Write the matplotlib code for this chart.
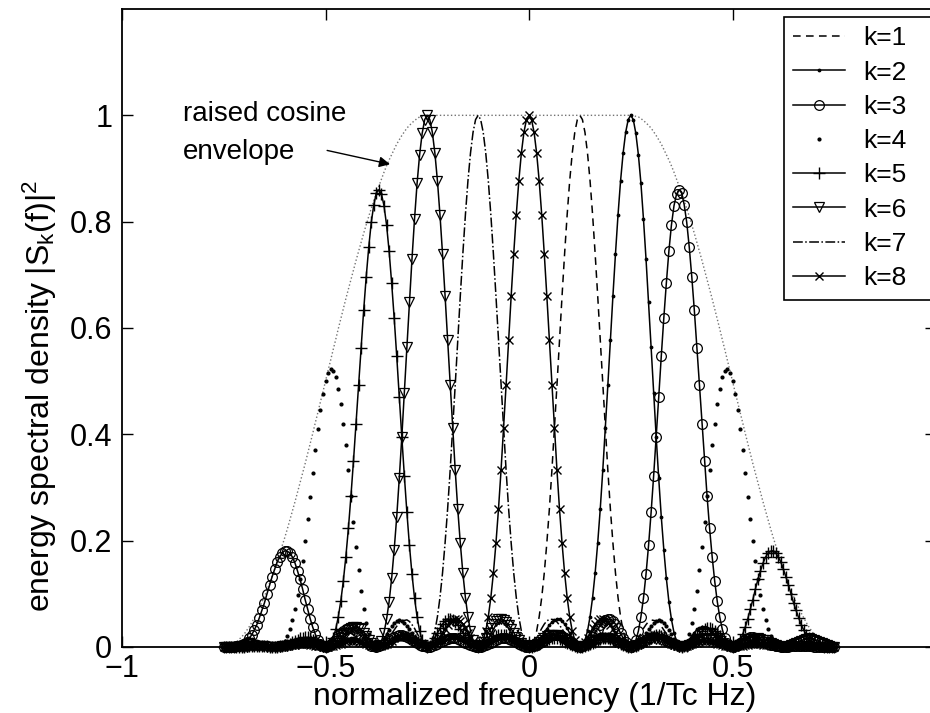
import numpy as np
import matplotlib
matplotlib.use("Agg")
import matplotlib.pyplot as plt

plt.rcParams['font.family'] = ['Liberation Sans', 'DejaVu Sans']
plt.rcParams['mathtext.fontset'] = 'custom'
plt.rcParams['mathtext.rm'] = 'Liberation Sans'
plt.rcParams['mathtext.it'] = 'Liberation Sans:italic'

# sampling grid of normalized frequency (1/Tc Hz)
freq = np.linspace(-0.75, 0.75, 241)

# energy spectral density |S_k(f)|^2
k1 = [0, 0, 0, 0, 0, 0, 0.001, 0.001, 0.001, 0.002,
      0.002, 0.002, 0.002, 0.002, 0.002, 0.002, 0.001, 0.001, 0, 0,
      0, 0, 0.001, 0.001, 0.002, 0.003, 0.004, 0.005, 0.006, 0.007,
      0.007, 0.007, 0.007, 0.006, 0.005, 0.004, 0.003, 0.002, 0.001, 0,
      0, 0, 0.001, 0.002, 0.003, 0.005, 0.007, 0.008, 0.010, 0.011,
      0.011, 0.011, 0.011, 0.010, 0.008, 0.006, 0.004, 0.002, 0.002, 0,
      0, 0, 0.002, 0.003, 0.005, 0.007, 0.009, 0.012, 0.014, 0.015,
      0.015, 0.016, 0.015, 0.013, 0.011, 0.009, 0.006, 0.004, 0.002, 0,
      0, 0.001, 0.002, 0.004, 0.007, 0.010, 0.013, 0.017, 0.019, 0.022,
      0.023, 0.023, 0.022, 0.020, 0.017, 0.013, 0.009, 0.006, 0.003, 0.001,
      0, 0.001, 0.003, 0.007, 0.013, 0.019, 0.027, 0.034, 0.041, 0.047,
      0.051, 0.052, 0.052, 0.049, 0.043, 0.035, 0.026, 0.017, 0.009, 0.002,
      0,
      0.003, 0.013, 0.030, 0.057, 0.093, 0.139, 0.195, 0.259, 0.332, 0.411,
      0.493, 0.578, 0.661, 0.740, 0.813, 0.877, 0.929, 0.968, 0.992, 1.0,
      0.992, 0.968, 0.929, 0.877, 0.813, 0.740, 0.661, 0.578, 0.493, 0.411,
      0.332, 0.259, 0.195, 0.139, 0.093, 0.057, 0.030, 0.013, 0.003, 0,
      0.002, 0.009, 0.017, 0.026, 0.035, 0.042, 0.048, 0.051, 0.050, 0.049,
      0.045, 0.039, 0.032, 0.025, 0.017, 0.012, 0.006, 0.003, 0.001, 0,
      0.001, 0.002, 0.005, 0.007, 0.010, 0.013, 0.015, 0.016, 0.016, 0.016,
      0.015, 0.012, 0.011, 0.008, 0.006, 0.004, 0.002, 0.001, 0.001, 0,
      0, 0.001, 0.002, 0.003, 0.004, 0.004, 0.005, 0.005, 0.005, 0.005,
      0.005, 0.004, 0.003, 0.002, 0.002, 0.001, 0.001, 0, 0, 0,
      0, 0, 0, 0, 0.001, 0.001, 0.001, 0.001, 0.001, 0.001,
      0, 0, 0, 0, 0, 0, 0, 0, 0, 0]

k2 = [0, 0, 0.002, 0.003, 0.005, 0.008, 0.010, 0.012, 0.014, 0.015,
      0.016, 0.015, 0.014, 0.012, 0.010, 0.008, 0.005, 0.003, 0.002, 0,
      0, 0, 0.002, 0.003, 0.005, 0.008, 0.010, 0.013, 0.014, 0.015,
      0.016, 0.015, 0.014, 0.012, 0.010, 0.008, 0.005, 0.003, 0.001, 0,
      0, 0.001, 0.002, 0.003, 0.005, 0.008, 0.010, 0.013, 0.014, 0.015,
      0.016, 0.016, 0.014, 0.013, 0.010, 0.008, 0.006, 0.003, 0.002, 0.001,
      0, 0, 0.002, 0.004, 0.005, 0.008, 0.010, 0.012, 0.014, 0.015,
      0.015, 0.016, 0.015, 0.013, 0.010, 0.008, 0.005, 0.003, 0.002, 0,
      0, 0, 0.002, 0.003, 0.005, 0.008, 0.010, 0.013, 0.015, 0.016,
      0.016, 0.016, 0.015, 0.013, 0.011, 0.009, 0.006, 0.004, 0.002, 0,
      0, 0.001, 0.002, 0.004, 0.007, 0.010, 0.013, 0.017, 0.019, 0.022,
      0.023, 0.023, 0.022, 0.020, 0.017, 0.013, 0.009, 0.006, 0.003, 0.001,
      0,
      0.001, 0.003, 0.007, 0.013, 0.019, 0.027, 0.034, 0.041, 0.047, 0.051,
      0.052, 0.052, 0.049, 0.043, 0.035, 0.026, 0.017, 0.009, 0.002, 0,
      0.003, 0.013, 0.030, 0.057, 0.093, 0.139, 0.195, 0.259, 0.332, 0.411,
      0.493, 0.578, 0.661, 0.740, 0.813, 0.877, 0.929, 0.968, 0.992, 1.0,
      0.992, 0.966, 0.926, 0.872, 0.805, 0.730, 0.648, 0.564, 0.478, 0.395,
      0.317, 0.245, 0.183, 0.129, 0.085, 0.052, 0.027, 0.011, 0.003, 0,
      0.002, 0.007, 0.014, 0.021, 0.027, 0.033, 0.036, 0.038, 0.037, 0.035,
      0.032, 0.027, 0.022, 0.017, 0.011, 0.008, 0.004, 0.002, 0.001, 0,
      0, 0.001, 0.003, 0.004, 0.005, 0.007, 0.007, 0.008, 0.008, 0.007,
      0.006, 0.005, 0.004, 0.003, 0.002, 0.001, 0.001, 0, 0, 0,
      0, 0, 0, 0.001, 0.001, 0.001, 0.001, 0.001, 0.001, 0.001,
      0, 0, 0, 0, 0, 0, 0, 0, 0, 0]

k3 = [0, 0, 0, 0, 0, 0.001, 0.002, 0.004, 0.006, 0.010,
      0.016, 0.023, 0.032, 0.042, 0.055, 0.069, 0.083, 0.100, 0.116, 0.132,
      0.146, 0.160, 0.169, 0.177, 0.181, 0.180, 0.177, 0.169, 0.158, 0.143,
      0.127, 0.109, 0.089, 0.071, 0.053, 0.037, 0.024, 0.013, 0.006, 0.001,
      0, 0.001, 0.005, 0.010, 0.015, 0.021, 0.027, 0.031, 0.034, 0.035,
      0.035, 0.033, 0.030, 0.025, 0.021, 0.015, 0.010, 0.006, 0.002, 0.001,
      0, 0.001, 0.003, 0.005, 0.008, 0.012, 0.016, 0.019, 0.021, 0.022,
      0.022, 0.021, 0.019, 0.017, 0.013, 0.010, 0.007, 0.004, 0.002, 0.001,
      0, 0, 0.002, 0.004, 0.006, 0.009, 0.011, 0.013, 0.015, 0.016,
      0.016, 0.016, 0.015, 0.013, 0.010, 0.008, 0.005, 0.003, 0.002, 0,
      0, 0, 0.002, 0.003, 0.005, 0.008, 0.010, 0.013, 0.015, 0.016,
      0.016, 0.016, 0.015, 0.013, 0.011, 0.009, 0.006, 0.004, 0.002, 0,
      0,
      0.001, 0.002, 0.004, 0.007, 0.010, 0.013, 0.017, 0.019, 0.022, 0.023,
      0.023, 0.022, 0.020, 0.017, 0.013, 0.009, 0.006, 0.003, 0.001, 0,
      0.001, 0.003, 0.007, 0.013, 0.019, 0.027, 0.034, 0.041, 0.047, 0.051,
      0.052, 0.052, 0.049, 0.043, 0.035, 0.026, 0.017, 0.009, 0.002, 0,
      0.003, 0.013, 0.030, 0.057, 0.092, 0.137, 0.191, 0.253, 0.322, 0.395,
      0.470, 0.547, 0.619, 0.685, 0.745, 0.794, 0.830, 0.852, 0.860, 0.854,
      0.832, 0.799, 0.752, 0.696, 0.633, 0.563, 0.492, 0.420, 0.350, 0.284,
      0.223, 0.170, 0.124, 0.086, 0.056, 0.033, 0.017, 0.007, 0.002, 0,
      0.001, 0.004, 0.007, 0.011, 0.014, 0.016, 0.018, 0.018, 0.017, 0.016,
      0.014, 0.011, 0.009, 0.006, 0.004, 0.003, 0.001, 0.001, 0, 0,
      0, 0, 0.001, 0.001, 0.001, 0.001, 0.001, 0.001, 0.001, 0.001,
      0.001, 0, 0, 0, 0, 0, 0, 0, 0, 0]

k4 = [0, 0, 0, 0, 0, 0, 0, 0.001, 0.001, 0.001,
      0.002, 0.002, 0.003, 0.003, 0.003, 0.003, 0.002, 0.002, 0.001, 0,
      0, 0, 0.002, 0.006, 0.012, 0.021, 0.033, 0.050, 0.071, 0.097,
      0.127, 0.161, 0.199, 0.241, 0.283, 0.327, 0.370, 0.410, 0.446, 0.476,
      0.500, 0.516, 0.522, 0.519, 0.507, 0.486, 0.457, 0.420, 0.379, 0.332,
      0.284, 0.235, 0.188, 0.145, 0.106, 0.072, 0.045, 0.024, 0.011, 0.003,
      0, 0.002, 0.008, 0.015, 0.024, 0.032, 0.040, 0.046, 0.049, 0.050,
      0.049, 0.046, 0.040, 0.033, 0.027, 0.019, 0.013, 0.007, 0.003, 0.001,
      0, 0.001, 0.003, 0.006, 0.009, 0.013, 0.017, 0.020, 0.022, 0.023,
      0.023, 0.022, 0.019, 0.017, 0.013, 0.010, 0.007, 0.004, 0.002, 0.001,
      0, 0, 0.002, 0.004, 0.006, 0.009, 0.011, 0.013, 0.015, 0.016,
      0.016, 0.016, 0.015, 0.013, 0.010, 0.008, 0.005, 0.003, 0.002, 0,
      0,
      0, 0.002, 0.003, 0.005, 0.008, 0.010, 0.013, 0.015, 0.016, 0.016,
      0.016, 0.015, 0.013, 0.011, 0.009, 0.006, 0.004, 0.002, 0, 0,
      0.001, 0.002, 0.004, 0.007, 0.010, 0.013, 0.017, 0.019, 0.022, 0.023,
      0.023, 0.022, 0.020, 0.017, 0.013, 0.009, 0.006, 0.003, 0.001, 0,
      0.001, 0.003, 0.007, 0.013, 0.019, 0.027, 0.033, 0.040, 0.046, 0.049,
      0.050, 0.049, 0.046, 0.040, 0.032, 0.024, 0.015, 0.008, 0.002, 0,
      0.003, 0.011, 0.024, 0.045, 0.072, 0.106, 0.145, 0.188, 0.235, 0.284,
      0.332, 0.379, 0.420, 0.457, 0.486, 0.507, 0.519, 0.522, 0.516, 0.500,
      0.476, 0.446, 0.410, 0.370, 0.327, 0.283, 0.241, 0.199, 0.161, 0.127,
      0.097, 0.071, 0.050, 0.033, 0.021, 0.012, 0.006, 0.002, 0, 0,
      0, 0.001, 0.002, 0.002, 0.003, 0.003, 0.003, 0.003, 0.002, 0.002,
      0.001, 0.001, 0.001, 0, 0, 0, 0, 0, 0, 0]

k5 = [0, 0, 0, 0, 0, 0, 0, 0, 0, 0.001,
      0.001, 0.001, 0.001, 0.001, 0.001, 0.001, 0.001, 0.001, 0, 0,
      0, 0, 0.001, 0.001, 0.003, 0.004, 0.006, 0.009, 0.011, 0.014,
      0.016, 0.017, 0.018, 0.018, 0.016, 0.014, 0.011, 0.007, 0.004, 0.001,
      0, 0.002, 0.007, 0.017, 0.033, 0.056, 0.086, 0.124, 0.170, 0.223,
      0.284, 0.350, 0.420, 0.492, 0.563, 0.633, 0.696, 0.752, 0.799, 0.832,
      0.854, 0.860, 0.852, 0.830, 0.794, 0.745, 0.685, 0.619, 0.547, 0.470,
      0.395, 0.322, 0.253, 0.191, 0.137, 0.092, 0.057, 0.030, 0.013, 0.003,
      0, 0.002, 0.009, 0.017, 0.026, 0.035, 0.043, 0.049, 0.052, 0.052,
      0.051, 0.047, 0.041, 0.034, 0.027, 0.019, 0.013, 0.007, 0.003, 0.001,
      0, 0.001, 0.003, 0.006, 0.009, 0.013, 0.017, 0.020, 0.022, 0.023,
      0.023, 0.022, 0.019, 0.017, 0.013, 0.010, 0.007, 0.004, 0.002, 0.001,
      0,
      0, 0.002, 0.004, 0.006, 0.009, 0.011, 0.013, 0.015, 0.016, 0.016,
      0.016, 0.015, 0.013, 0.010, 0.008, 0.005, 0.003, 0.002, 0, 0,
      0, 0.002, 0.003, 0.005, 0.008, 0.010, 0.013, 0.015, 0.016, 0.016,
      0.016, 0.015, 0.013, 0.011, 0.009, 0.006, 0.004, 0.002, 0, 0,
      0.001, 0.002, 0.004, 0.007, 0.010, 0.013, 0.017, 0.019, 0.021, 0.022,
      0.022, 0.021, 0.019, 0.016, 0.012, 0.008, 0.005, 0.003, 0.001, 0,
      0.001, 0.002, 0.006, 0.010, 0.015, 0.021, 0.025, 0.030, 0.033, 0.035,
      0.035, 0.034, 0.031, 0.027, 0.021, 0.015, 0.010, 0.005, 0.001, 0,
      0.001, 0.006, 0.013, 0.024, 0.037, 0.053, 0.071, 0.089, 0.109, 0.127,
      0.143, 0.158, 0.169, 0.177, 0.180, 0.181, 0.177, 0.169, 0.160, 0.146,
      0.132, 0.116, 0.100, 0.083, 0.069, 0.055, 0.042, 0.032, 0.023, 0.016,
      0.010, 0.006, 0.004, 0.002, 0.001, 0, 0, 0, 0, 0]

k6 = [0, 0, 0, 0, 0, 0, 0, 0, 0, 0,
      0.001, 0.001, 0.001, 0.001, 0.001, 0.001, 0.001, 0, 0, 0,
      0, 0, 0, 0.001, 0.001, 0.002, 0.003, 0.004, 0.005, 0.006,
      0.007, 0.008, 0.008, 0.007, 0.007, 0.005, 0.004, 0.003, 0.001, 0,
      0, 0.001, 0.002, 0.004, 0.008, 0.011, 0.017, 0.022, 0.027, 0.032,
      0.035, 0.037, 0.038, 0.036, 0.033, 0.027, 0.021, 0.014, 0.007, 0.002,
      0, 0.003, 0.011, 0.027, 0.052, 0.085, 0.129, 0.183, 0.245, 0.317,
      0.395, 0.478, 0.564, 0.648, 0.730, 0.805, 0.872, 0.926, 0.966, 0.992,
      1.0, 0.992, 0.968, 0.929, 0.877, 0.813, 0.740, 0.661, 0.578, 0.493,
      0.411, 0.332, 0.259, 0.195, 0.139, 0.093, 0.057, 0.030, 0.013, 0.003,
      0, 0.002, 0.009, 0.017, 0.026, 0.035, 0.043, 0.049, 0.052, 0.052,
      0.051, 0.047, 0.041, 0.034, 0.027, 0.019, 0.013, 0.007, 0.003, 0.001,
      0,
      0.001, 0.003, 0.006, 0.009, 0.013, 0.017, 0.020, 0.022, 0.023, 0.023,
      0.022, 0.019, 0.017, 0.013, 0.010, 0.007, 0.004, 0.002, 0.001, 0,
      0, 0.002, 0.004, 0.006, 0.009, 0.011, 0.013, 0.015, 0.016, 0.016,
      0.016, 0.015, 0.013, 0.010, 0.008, 0.005, 0.003, 0.002, 0, 0,
      0, 0.002, 0.003, 0.005, 0.008, 0.010, 0.013, 0.015, 0.016, 0.015,
      0.015, 0.014, 0.012, 0.010, 0.008, 0.005, 0.004, 0.002, 0, 0,
      0.001, 0.002, 0.003, 0.006, 0.008, 0.010, 0.013, 0.014, 0.016, 0.016,
      0.015, 0.014, 0.013, 0.010, 0.008, 0.005, 0.003, 0.002, 0.001, 0,
      0, 0.001, 0.003, 0.005, 0.008, 0.010, 0.012, 0.014, 0.015, 0.016,
      0.015, 0.014, 0.013, 0.010, 0.008, 0.005, 0.003, 0.002, 0, 0,
      0, 0.002, 0.003, 0.005, 0.008, 0.010, 0.012, 0.014, 0.015, 0.016,
      0.015, 0.014, 0.012, 0.010, 0.008, 0.005, 0.003, 0.002, 0, 0]

k7 = [0, 0, 0, 0, 0, 0, 0, 0, 0, 0,
      0.001, 0.001, 0.001, 0.001, 0.001, 0.001, 0, 0, 0, 0,
      0, 0, 0, 0.001, 0.001, 0.002, 0.002, 0.003, 0.004, 0.005,
      0.005, 0.005, 0.005, 0.005, 0.004, 0.004, 0.003, 0.002, 0.001, 0,
      0, 0.001, 0.001, 0.002, 0.004, 0.006, 0.008, 0.011, 0.012, 0.015,
      0.016, 0.016, 0.016, 0.015, 0.013, 0.010, 0.007, 0.005, 0.002, 0.001,
      0, 0.001, 0.003, 0.006, 0.012, 0.017, 0.025, 0.032, 0.039, 0.045,
      0.049, 0.050, 0.051, 0.048, 0.042, 0.035, 0.026, 0.017, 0.009, 0.002,
      0, 0.003, 0.013, 0.030, 0.057, 0.093, 0.139, 0.195, 0.259, 0.332,
      0.411, 0.493, 0.578, 0.661, 0.740, 0.813, 0.877, 0.929, 0.968, 0.992,
      1.0, 0.992, 0.968, 0.929, 0.877, 0.813, 0.740, 0.661, 0.578, 0.493,
      0.411, 0.332, 0.259, 0.195, 0.139, 0.093, 0.057, 0.030, 0.013, 0.003,
      0,
      0.002, 0.009, 0.017, 0.026, 0.035, 0.043, 0.049, 0.052, 0.052, 0.051,
      0.047, 0.041, 0.034, 0.027, 0.019, 0.013, 0.007, 0.003, 0.001, 0,
      0.001, 0.003, 0.006, 0.009, 0.013, 0.017, 0.020, 0.022, 0.023, 0.023,
      0.022, 0.019, 0.017, 0.013, 0.010, 0.007, 0.004, 0.002, 0.001, 0,
      0, 0.002, 0.004, 0.006, 0.009, 0.011, 0.013, 0.015, 0.016, 0.015,
      0.015, 0.014, 0.012, 0.009, 0.007, 0.005, 0.003, 0.002, 0, 0,
      0, 0.002, 0.002, 0.004, 0.006, 0.008, 0.010, 0.011, 0.011, 0.011,
      0.011, 0.010, 0.008, 0.007, 0.005, 0.003, 0.002, 0.001, 0, 0,
      0, 0.001, 0.002, 0.003, 0.004, 0.005, 0.006, 0.007, 0.007, 0.007,
      0.007, 0.006, 0.005, 0.004, 0.003, 0.002, 0.001, 0.001, 0, 0,
      0, 0, 0.001, 0.001, 0.002, 0.002, 0.002, 0.002, 0.002, 0.002,
      0.002, 0.001, 0.001, 0.001, 0, 0, 0, 0, 0, 0]

k8 = [0, 0, 0, 0, 0, 0, 0, 0, 0.001, 0.001,
      0.001, 0.001, 0.001, 0.001, 0.001, 0.001, 0.001, 0, 0, 0,
      0, 0, 0, 0.001, 0.001, 0.002, 0.003, 0.003, 0.004, 0.005,
      0.005, 0.005, 0.005, 0.005, 0.004, 0.003, 0.002, 0.001, 0.001, 0,
      0, 0, 0.001, 0.002, 0.003, 0.005, 0.006, 0.008, 0.010, 0.011,
      0.011, 0.011, 0.011, 0.010, 0.008, 0.007, 0.005, 0.003, 0.002, 0,
      0, 0.001, 0.002, 0.004, 0.006, 0.009, 0.012, 0.016, 0.018, 0.021,
      0.022, 0.022, 0.021, 0.020, 0.017, 0.013, 0.009, 0.006, 0.003, 0.001,
      0, 0.001, 0.003, 0.007, 0.013, 0.019, 0.027, 0.034, 0.041, 0.047,
      0.051, 0.052, 0.052, 0.049, 0.043, 0.035, 0.026, 0.017, 0.009, 0.002,
      0, 0.003, 0.013, 0.030, 0.057, 0.093, 0.139, 0.195, 0.259, 0.332,
      0.411, 0.493, 0.578, 0.661, 0.740, 0.813, 0.877, 0.929, 0.968, 0.992,
      1.0,
      0.992, 0.968, 0.929, 0.877, 0.813, 0.740, 0.661, 0.578, 0.493, 0.411,
      0.332, 0.259, 0.195, 0.139, 0.093, 0.057, 0.030, 0.013, 0.003, 0,
      0.002, 0.009, 0.017, 0.026, 0.035, 0.043, 0.049, 0.052, 0.052, 0.051,
      0.047, 0.041, 0.034, 0.027, 0.019, 0.013, 0.007, 0.003, 0.001, 0,
      0.001, 0.003, 0.006, 0.009, 0.013, 0.017, 0.020, 0.021, 0.022, 0.022,
      0.021, 0.018, 0.016, 0.012, 0.009, 0.006, 0.004, 0.002, 0.001, 0,
      0, 0.002, 0.003, 0.005, 0.007, 0.008, 0.010, 0.011, 0.011, 0.011,
      0.011, 0.010, 0.008, 0.006, 0.005, 0.003, 0.002, 0.001, 0, 0,
      0, 0.001, 0.001, 0.002, 0.003, 0.004, 0.005, 0.005, 0.005, 0.005,
      0.005, 0.004, 0.003, 0.003, 0.002, 0.001, 0.001, 0, 0, 0,
      0, 0, 0, 0.001, 0.001, 0.001, 0.001, 0.001, 0.001, 0.001,
      0.001, 0.001, 0, 0, 0, 0, 0, 0, 0, 0]

envelope = [0, 0, 0.002, 0.004, 0.006, 0.010, 0.014, 0.019, 0.024, 0.031,
            0.038, 0.046, 0.055, 0.064, 0.074, 0.084, 0.095, 0.107, 0.120, 0.133,
            0.146, 0.161, 0.175, 0.191, 0.206, 0.222, 0.239, 0.256, 0.273, 0.291,
            0.309, 0.327, 0.345, 0.364, 0.383, 0.402, 0.422, 0.441, 0.461, 0.480,
            0.500, 0.520, 0.539, 0.559, 0.578, 0.598, 0.617, 0.636, 0.655, 0.673,
            0.691, 0.709, 0.727, 0.744, 0.761, 0.778, 0.794, 0.810, 0.825, 0.839,
            0.854, 0.867, 0.880, 0.893, 0.905, 0.916, 0.926, 0.936, 0.946, 0.954,
            0.962, 0.969, 0.976, 0.981, 0.986, 0.990, 0.994, 0.997, 0.998, 1.0,
            1, 1, 1, 1, 1, 1, 1, 1, 1, 1,
            1, 1, 1, 1, 1, 1, 1, 1, 1, 1,
            1, 1, 1, 1, 1, 1, 1, 1, 1, 1,
            1, 1, 1, 1, 1, 1, 1, 1, 1, 1,
            1,
            1, 1, 1, 1, 1, 1, 1, 1, 1, 1,
            1, 1, 1, 1, 1, 1, 1, 1, 1, 1,
            1, 1, 1, 1, 1, 1, 1, 1, 1, 1,
            1, 1, 1, 1, 1, 1, 1, 1, 1, 1,
            1.0, 0.998, 0.997, 0.994, 0.990, 0.986, 0.981, 0.976, 0.969, 0.962,
            0.954, 0.946, 0.936, 0.926, 0.916, 0.905, 0.893, 0.880, 0.867, 0.854,
            0.839, 0.825, 0.810, 0.794, 0.778, 0.761, 0.744, 0.727, 0.709, 0.691,
            0.673, 0.655, 0.636, 0.617, 0.598, 0.578, 0.559, 0.539, 0.520, 0.500,
            0.480, 0.461, 0.441, 0.422, 0.402, 0.383, 0.364, 0.345, 0.327, 0.309,
            0.291, 0.273, 0.256, 0.239, 0.222, 0.206, 0.191, 0.175, 0.161, 0.146,
            0.133, 0.120, 0.107, 0.095, 0.084, 0.074, 0.064, 0.055, 0.046, 0.038,
            0.031, 0.024, 0.019, 0.014, 0.010, 0.006, 0.004, 0.002, 0, 0]

series_labels = ['k=1', 'k=2', 'k=3', 'k=4', 'k=5', 'k=6', 'k=7', 'k=8']
xtick_vals = [-1, -0.5, 0, 0.5, 1]
xtick_labels = ['\u22121', '\u22120.5', '0', '0.5', '']
ytick_vals = [0, 0.2, 0.4, 0.6, 0.8, 1]
ytick_labels = ['0', '0.2', '0.4', '0.6', '0.8', '1']

W, H = 930, 713
fig = plt.figure(figsize=(W / 100, H / 100), dpi=100)
ax = fig.add_axes([122 / W, 66 / H, 814 / W, 638 / H])

lw = 1.1
ax.plot(freq, envelope, linestyle=':', color='0.45', lw=1.0, clip_on=False)
styles = [
    dict(linestyle='--', dashes=(5, 3.5)),
    dict(linestyle='-', marker='.', ms=3.5),
    dict(linestyle='-', marker='o', ms=7, mfc='none', mew=0.9),
    dict(linestyle='none', marker='.', ms=4),
    dict(linestyle='-', marker='+', ms=8.5, mew=1.0),
    dict(linestyle='-', marker='v', ms=7, mfc='none', mew=0.9),
    dict(linestyle='-.'),
    dict(linestyle='-', marker='x', ms=6, mew=1.0),
]
for ys, lab, st in zip([k1, k2, k3, k4, k5, k6, k7, k8], series_labels, styles):
    ax.plot(freq, ys, color='k', lw=lw, label=lab, clip_on=False, **st)

ax.set_xlim(-1, 1)
ax.set_ylim(0, 1.2)
ax.set_xticks(xtick_vals)
ax.set_xticklabels(xtick_labels)
ax.set_yticks(ytick_vals)
ax.set_yticklabels(ytick_labels)
ax.tick_params(direction='in', length=8, width=1.0, top=True, right=True,
               labelsize=22, colors='k')
ax.tick_params(axis='x', pad=5)
ax.tick_params(axis='y', pad=7)
for sp in ax.spines.values():
    sp.set_linewidth(1.3)

fig.text(40 / W, 1 - 396 / H,
         r'energy spectral density |S$_\mathrm{k}$(f)|$^\mathrm{2}$',
         rotation=90, ha='center', va='center', fontsize=23)
fig.text(535 / W, (H - 705) / H, 'normalized frequency (1/Tc Hz)',
         ha='center', va='baseline', fontsize=23)

ax.text(-0.850, 0.989, 'raised cosine', fontsize=20, ha='left', va='baseline')
ax.text(-0.850, 0.917, 'envelope', fontsize=20, ha='left', va='baseline')
ax.annotate('', xy=(-0.3415, 0.908), xytext=(-0.496, 0.934),
            arrowprops=dict(arrowstyle='-|>', color='k', lw=1.0,
                            mutation_scale=16, shrinkA=0, shrinkB=0))

leg = ax.legend(loc='upper left',
                bbox_to_anchor=(784 / W, 1 - 17 / H, 170 / W, 0.0),
                bbox_transform=fig.transFigure, mode='expand',
                fontsize=19, frameon=True,
                fancybox=False, edgecolor='k', framealpha=1, borderaxespad=0,
                borderpad=0.35, handlelength=1.95, handletextpad=0.7,
                labelspacing=0.39, numpoints=1)
leg.get_frame().set_linewidth(1.2)

fig.savefig('out.png', dpi=100)
